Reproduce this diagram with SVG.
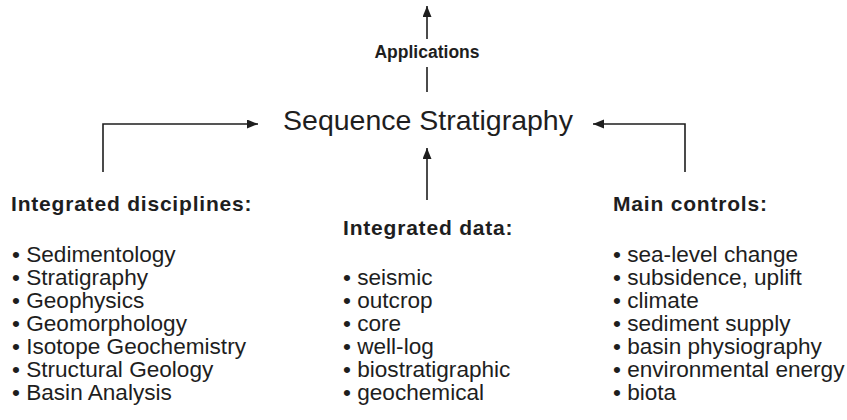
<svg xmlns="http://www.w3.org/2000/svg" width="847" height="420" viewBox="0 0 847 420">
<style>
text{font-family:"Liberation Sans",Arial,Helvetica,sans-serif;fill:#1e1e1e}
.h{font-weight:bold;font-size:21px;letter-spacing:0.8px}
.b{font-size:22.6px}
.title{font-size:28.5px}
.app{font-weight:bold;font-size:17.5px}
.c{stroke:#1e1e1e;stroke-width:1.6;fill:none}
</style>
<defs>
<marker id="ah" markerUnits="userSpaceOnUse" markerWidth="12" markerHeight="10" refX="11" refY="4.5" orient="auto">
<path d="M0,0 L11,4.5 L0,9 z" fill="#1e1e1e"/>
</marker>
</defs>
<rect width="847" height="420" fill="#fff"/>
<g id="connectors">
<line class="c" x1="427" y1="39" x2="427" y2="6" marker-end="url(#ah)"/>
<line class="c" x1="427" y1="92" x2="427" y2="67"/>
<polyline class="c" points="103,172 103,124 258,124" marker-end="url(#ah)"/>
<polyline class="c" points="685,172 685,124 593,124" marker-end="url(#ah)"/>
<line class="c" x1="427" y1="200" x2="427" y2="148" marker-end="url(#ah)"/>
</g>
<g id="applications">
<text class="app" x="427" y="58" text-anchor="middle">Applications</text>
</g>
<g id="sequence-stratigraphy">
<text class="title" x="428" y="130" text-anchor="middle">Sequence Stratigraphy</text>
</g>
<g id="integrated-disciplines">
<text class="h" x="11" y="211">Integrated disciplines:</text>
<text class="b" x="12" y="262">• Sedimentology</text>
<text class="b" x="12" y="285">• Stratigraphy</text>
<text class="b" x="12" y="308">• Geophysics</text>
<text class="b" x="12" y="331">• Geomorphology</text>
<text class="b" x="12" y="354">• Isotope Geochemistry</text>
<text class="b" x="12" y="377">• Structural Geology</text>
<text class="b" x="12" y="400">• Basin Analysis</text>
</g>
<g id="integrated-data">
<text class="h" x="343" y="235">Integrated data:</text>
<text class="b" x="343" y="285">• seismic</text>
<text class="b" x="343" y="308">• outcrop</text>
<text class="b" x="343" y="331">• core</text>
<text class="b" x="343" y="354">• well-log</text>
<text class="b" x="343" y="377">• biostratigraphic</text>
<text class="b" x="343" y="400">• geochemical</text>
</g>
<g id="main-controls">
<text class="h" x="613" y="211">Main controls:</text>
<text class="b" x="613" y="262">• sea-level change</text>
<text class="b" x="613" y="285">• subsidence, uplift</text>
<text class="b" x="613" y="308">• climate</text>
<text class="b" x="613" y="331">• sediment supply</text>
<text class="b" x="613" y="354">• basin physiography</text>
<text class="b" x="613" y="377">• environmental energy</text>
<text class="b" x="613" y="400">• biota</text>
</g>
</svg>
